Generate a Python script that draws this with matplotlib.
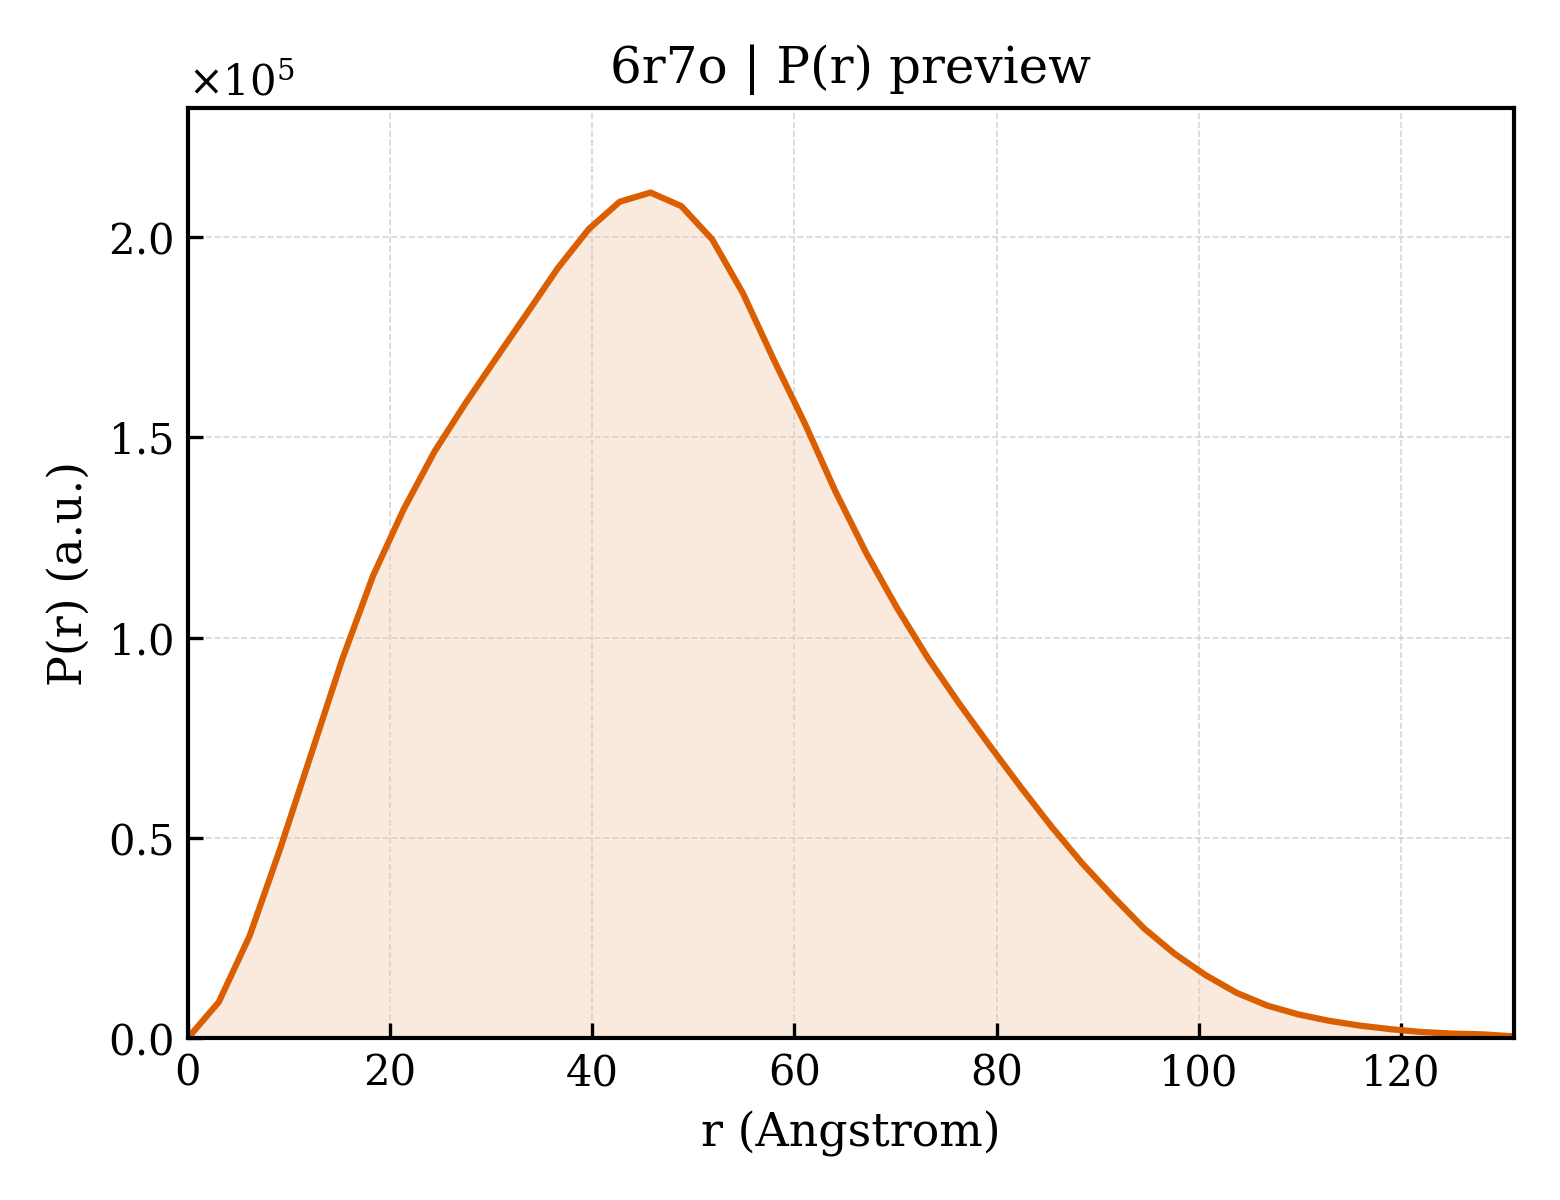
import numpy as np
import matplotlib
matplotlib.use("Agg")
import matplotlib.pyplot as plt

plt.rcParams["font.family"] = "DejaVu Serif"
plt.rcParams["mathtext.fontset"] = "dejavuserif"

# P(r) curve (r in Angstrom, P in units of 1e5)
r_max = 131.2
n_pts = 44
p_r = [0.0, 0.09, 0.255, 0.475, 0.71, 0.945, 1.154, 1.321, 1.465, 1.585,
       1.698, 1.81, 1.923, 2.02, 2.088, 2.111, 2.077, 1.994, 1.859, 1.693,
       1.535, 1.364, 1.21, 1.073, 0.948, 0.836, 0.73, 0.627, 0.528, 0.436,
       0.353, 0.274, 0.21, 0.157, 0.113, 0.081, 0.059, 0.043, 0.031, 0.022,
       0.015, 0.011, 0.009, 0.004]

r = np.linspace(0, r_max, n_pts)
p = np.array(p_r) * 1e5

color = "#d95f02"

fig, ax = plt.subplots(figsize=(5.2, 4), dpi=300)
fig.subplots_adjust(left=0.1205, right=0.9705, bottom=0.135, top=0.91)

ax.fill_between(r, p, 0, color=color, alpha=0.13, linewidth=0)
ax.plot(r, p, color=color, lw=1.5)

ax.set_xlim(0, r_max)
ax.set_ylim(0, p.max() * 1.1)
ax.ticklabel_format(axis="y", style="sci", scilimits=(0, 0), useMathText=True)

ax.set_xlabel("r (Angstrom)", fontsize=11)
ax.set_ylabel("P(r) (a.u.)", fontsize=11)
ax.set_title("6r7o | P(r) preview", fontsize=12)

ax.tick_params(direction="in", labelsize=10)
ax.yaxis.get_offset_text().set_fontsize(10)
ax.grid(True, linestyle="--", linewidth=0.4, color="#cccccc", alpha=0.8)
for s in ax.spines.values():
    s.set_linewidth(1.0)

fig.savefig("out.png", dpi=300)
